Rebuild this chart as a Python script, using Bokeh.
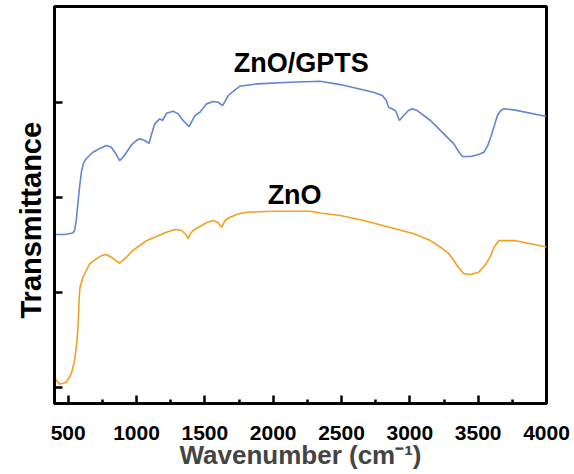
from bokeh.plotting import figure
from bokeh.models import FixedTicker, Label, Range1d, CustomJSTickFormatter, Title
from bokeh.embed import file_html
from bokeh.resources import INLINE

# ---- data ----
gpts_wn = [400, 473, 534, 547, 559, 571, 583, 596, 613, 633, 679, 730, 779, 816, 848, 877, 906, 936,
           965, 999, 1024, 1060, 1092, 1112, 1134, 1170, 1190, 1220, 1268, 1305, 1341, 1385, 1427, 1464,
           1513, 1561, 1598, 1630, 1672, 1721, 1757, 1880, 2124, 2344, 2491, 2733, 2799, 2828, 2845, 2895,
           2924, 2955, 2990, 3017, 3054, 3151, 3225, 3322, 3357, 3384, 3445, 3503, 3542, 3570, 3592, 3641,
           3665, 3689, 3763, 4000]
gpts_t = [1.611, 1.611, 1.626, 1.653, 1.758, 1.937, 2.105, 2.263, 2.368, 2.411, 2.474, 2.516, 2.547,
          2.529, 2.463, 2.389, 2.432, 2.495, 2.558, 2.600, 2.618, 2.600, 2.572, 2.674, 2.776, 2.828, 2.811,
          2.887, 2.908, 2.881, 2.811, 2.747, 2.863, 2.898, 2.986, 3.011, 3.003, 2.968, 3.074, 3.134, 3.172,
          3.197, 3.214, 3.224, 3.189, 3.108, 3.074, 3.021, 2.951, 2.916, 2.811, 2.863, 2.916, 2.934, 2.916,
          2.811, 2.705, 2.565, 2.484, 2.432, 2.432, 2.453, 2.477, 2.547, 2.635, 2.863, 2.916, 2.934, 2.923,
          2.853]

zno_wn = [400, 412, 437, 459, 486, 523, 536, 547, 559, 565, 572, 580, 586, 608, 633, 657, 706, 745, 779,
          816, 848, 877, 926, 972, 1024, 1068, 1146, 1214, 1280, 1332, 1361, 1378, 1394, 1415, 1464, 1515,
          1561, 1596, 1623, 1647, 1684, 1743, 1807, 2002, 2271, 2344, 2491, 2662, 2858, 3029, 3151, 3225,
          3283, 3322, 3357, 3394, 3445, 3503, 3558, 3592, 3616, 3652, 3763, 4000]
zno_t = [0.144, 0.074, 0.037, 0.042, 0.056, 0.144, 0.221, 0.284, 0.424, 0.495, 0.642, 0.916, 1.053,
         1.161, 1.232, 1.302, 1.355, 1.389, 1.400, 1.372, 1.337, 1.308, 1.372, 1.442, 1.495, 1.542, 1.589,
         1.632, 1.663, 1.653, 1.611, 1.565, 1.621, 1.653, 1.695, 1.737, 1.758, 1.737, 1.687, 1.758, 1.793,
         1.826, 1.845, 1.856, 1.856, 1.837, 1.811, 1.758, 1.684, 1.618, 1.547, 1.477, 1.411, 1.337, 1.263,
         1.200, 1.189, 1.214, 1.302, 1.389, 1.477, 1.547, 1.547, 1.479]

x_major = [500, 1000, 1500, 2000, 2500, 3000, 3500, 4000]
x_minor = [750, 1250, 1750, 2250, 2750, 3250, 3750]
y_major = [0, 1, 2, 3]

FONT = "Liberation Sans"

p = figure(width=572, height=472, output_backend="svg", toolbar_location=None,
           x_range=Range1d(400, 4000), y_range=Range1d(-0.168, 4.011),
           min_border_left=54, min_border_right=26, min_border_top=6, min_border_bottom=69)

p.line(gpts_wn, gpts_t, line_color="#6384D4", line_width=1.6)
p.line(zno_wn, zno_t, line_color="#F2A023", line_width=1.6)

p.add_layout(Label(x=2205, y=3.416, text="ZnO/GPTS", text_align="center", text_baseline="middle",
                   text_font=FONT, text_font_style="bold", text_font_size="27px", text_color="black"))
p.add_layout(Label(x=2157, y=2.032, text="ZnO", text_align="center", text_baseline="middle",
                   text_font=FONT, text_font_style="bold", text_font_size="27px", text_color="black"))

# y-axis title on the left side, shifted down a little like the reference
p.add_layout(Title(text="Transmittance", align="left", offset=85, vertical_align="bottom", standoff=16,
                   text_font=FONT, text_font_style="bold", text_font_size="29px", text_color="black"),
             "left")

p.grid.visible = False
p.outline_line_color = "black"
p.outline_line_width = 3
p.outline_line_alpha = 1.0

xa = p.xaxis[0]
xa.ticker = FixedTicker(ticks=x_major, minor_ticks=x_minor)
xa.axis_label = "Wavenumber (cm\u207b\u00b9)"
xa.axis_label_text_font = FONT
xa.axis_label_text_font_style = "bold"
xa.axis_label_text_font_size = "26px"
xa.axis_label_standoff = -3
xa.major_label_text_font = FONT
xa.major_label_text_font_style = "bold"
xa.major_label_text_font_size = "21px"
xa.major_label_text_color = "black"
xa.major_label_standoff = 22
xa.major_tick_in = 8
xa.major_tick_out = 0
xa.minor_tick_in = 4
xa.minor_tick_out = 0
xa.axis_line_width = 3
xa.major_tick_line_width = 2.5
xa.minor_tick_line_width = 2.5

ya = p.yaxis[0]
ya.ticker = FixedTicker(ticks=y_major, minor_ticks=[])
ya.formatter = CustomJSTickFormatter(code="return ''")
ya.major_label_standoff = 0
ya.major_tick_in = 8
ya.major_tick_out = 0
ya.minor_tick_in = 0
ya.minor_tick_out = 0
ya.axis_line_width = 3
ya.major_tick_line_width = 2.5

open("out.html", "w").write(file_html(p, INLINE))
